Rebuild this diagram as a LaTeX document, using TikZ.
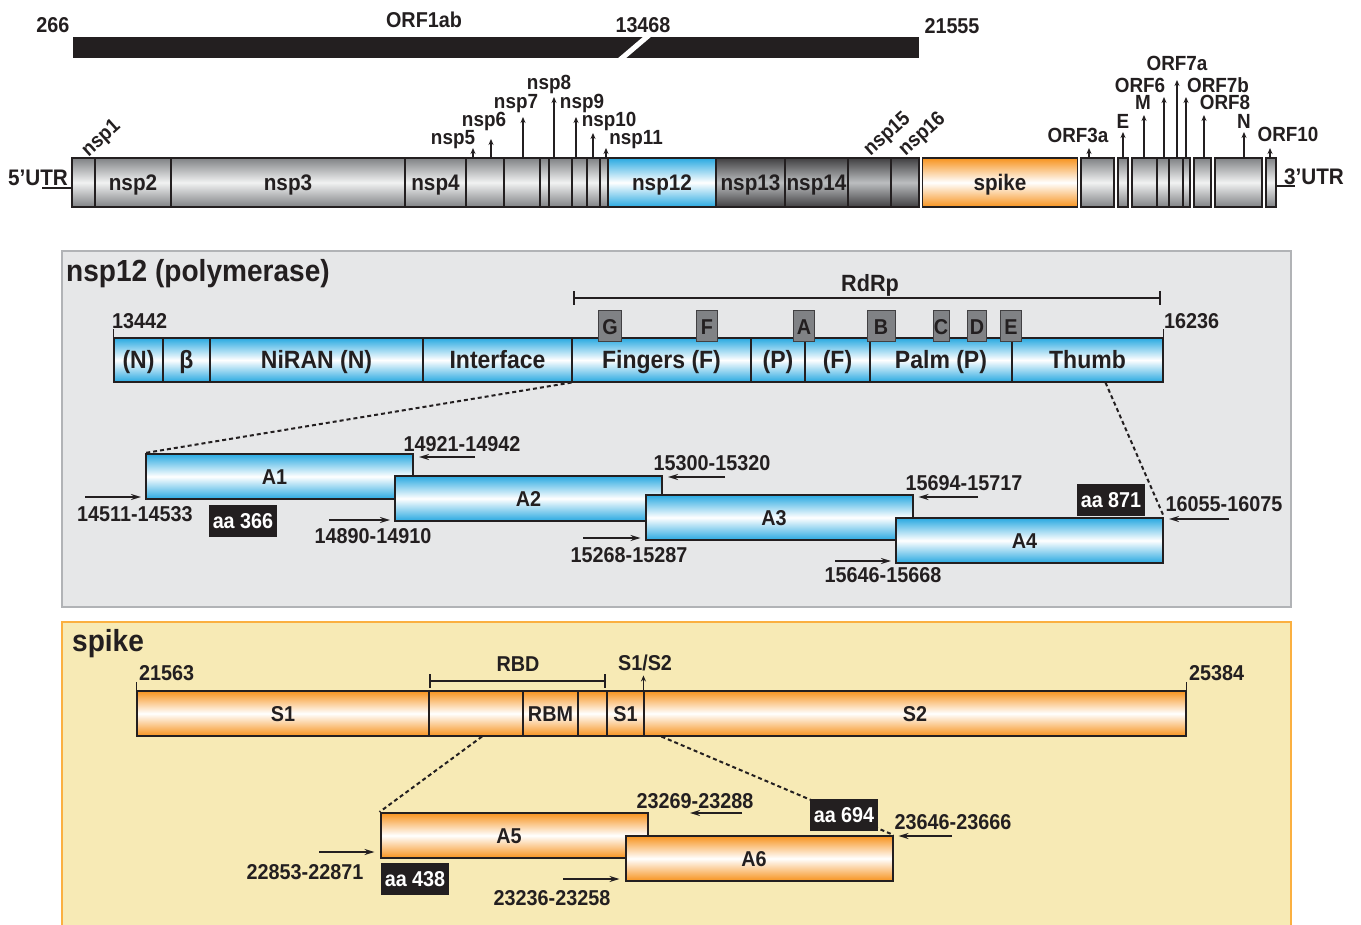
\documentclass[tikz,border=0pt]{standalone}
\usepackage{fontspec}
\setmainfont{Liberation Sans}[FakeStretch=0.92]
\usepackage{tikz}
\usetikzlibrary{arrows.meta,positioning,calc}

\definecolor{ink}{HTML}{231F20}
\definecolor{gedge}{HTML}{808285}
\definecolor{gmid}{HTML}{F1F2F2}
\definecolor{dedge}{HTML}{414042}
\definecolor{dmid}{HTML}{BCBEC0}
\definecolor{bedge}{HTML}{29A9E1}
\definecolor{oedge}{HTML}{F7931E}
\definecolor{panelgrey}{HTML}{E6E7E8}
\definecolor{panelline}{HTML}{B1B3B6}
\definecolor{paneltan}{HTML}{F7EAB5}
\definecolor{panelorange}{HTML}{FBB040}
\definecolor{motif}{HTML}{808285}

\newcommand{\fsz}[1]{\fontsize{#1pt}{#1pt}\selectfont\bfseries}
\newcommand{\amptext}[1]{#1\hspace*{10pt}}

\tikzset{
  seg/.style={draw=ink, line width=1.1pt, inner sep=0pt, text=ink, text depth=0pt},
  gseg/.style={seg, minimum height=49pt, font=\fsz{22.5}, text height=16pt, top color=gedge, bottom color=gedge, middle color=gmid},
  dseg/.style={seg, minimum height=49pt, font=\fsz{22.5}, text height=16pt, top color=dedge, bottom color=dedge, middle color=dmid},
  bseg/.style={seg, top color=bedge, bottom color=bedge, middle color=white},
  oseg/.style={seg, top color=oedge, bottom color=oedge, middle color=white},
  amp/.style={line width=2pt, minimum width=267pt, minimum height=45pt, font=\fsz{21.5}, text height=15.4pt},
  txt/.style={inner sep=0pt, text=ink, font=\fsz{21.5}, text height=15.4pt, text depth=0pt},
  small/.style={inner sep=0pt, text=ink, font=\fsz{20.5}, text height=14.7pt, text depth=0pt},
  title/.style={inner sep=0pt, text=ink, font=\fsz{30.5}, text height=21.8pt, text depth=0pt, anchor=west},
  aabox/.style={fill=ink, text=white, inner sep=0pt, font=\fsz{21.5}, text height=15.4pt, text depth=0pt, minimum width=68pt, minimum height=32pt},
  motifbox/.style={fill=motif, draw=dedge, line width=1pt, inner sep=0pt, minimum height=31pt, text=ink, font=\fsz{21.5}, text height=15.4pt, text depth=0pt},
  orfarrow/.style={draw=ink, line width=1.2pt, -{Stealth[length=6pt,width=5pt]}},
  primer/.style={draw=ink, line width=1.8pt, -{Stealth[length=10pt,width=6pt]}},
  bracket/.style={draw=ink, line width=1.8pt, {Bar[width=14pt]}-{Bar[width=14pt]}},
  tickl/.style={draw=ink, line width=1.2pt},
  zoomline/.style={draw=ink, line width=2pt, dash pattern=on 4pt off 3pt}
}

\begin{document}
\begin{tikzpicture}[x=1pt,y=-1pt]
\useasboundingbox (0,0) rectangle (1361,925);

% ORF1ab bar
\node[fill=ink, inner sep=0pt, minimum width=846pt, minimum height=21pt] (orf1ab) at (496,47.5) {};
\fill[white] (617,59) -- (625,59) -- (652,36) -- (644,36) -- cycle;
\node[txt] (p266) at (53,25) {266};
\node[txt] (porf) at (424,20) {ORF1ab};
\node[txt] (p13468) at (643,25) {13468};
\node[txt] (p21555) at (952,26) {21555};

% genome
\foreach \n/\a/\b/\t in {g1/72/95/{}, g2/95/171/nsp2, g3/171/405/nsp3, g4/405/466/nsp4,
    g5/466/504/{}, g6/504/540/{}, g7/540/549/{}, g8/549/572/{}, g9/572/587/{},
    g10/587/600/{}, g11/600/608/{},
    orf3a/1081/1114/{}, e/1118/1128/{}, m/1132/1157/{}, orf6/1157/1169/{},
    orf7a/1169/1183/{}, orf7b/1183/1190/{}, orf8/1194/1211/{}, n/1215/1262/{}, orf10/1266/1276/{}}
  \node[gseg, minimum width={(\b-\a)*1pt}] (\n) at ({(\a+\b)/2},182.5) {\t};
\foreach \n/\a/\b/\t in {nsp13/716/785/nsp13, nsp14/785/848/nsp14, nsp15/848/891/{}, nsp16/891/919/{}}
  \node[dseg, minimum width={(\b-\a)*1pt}] (\n) at ({(\a+\b)/2},182.5) {\t};
\node[bseg, minimum height=49pt, minimum width=108pt, font=\fsz{22.5}, text height=16pt] (nsp12) at (662,182.5) {nsp12};
\node[oseg, minimum height=49pt, minimum width=155pt, font=\fsz{22.5}, text height=16pt] (spike) at (1000,182.5) {spike};

% UTRs
\node[txt, font=\fsz{22.5}] (utr5) at (38,178) {5’UTR};
\coordinate (utr5l) at (42,188);
\draw[tickl] (utr5l) -- (utr5l -| g1.west);
\node[txt, font=\fsz{22.5}] (utr3) at (1314,177) {3’UTR};
\coordinate (utr3r) at (1295,186);
\draw[tickl] (utr3r -| orf10.east) -- (utr3r);

% rotated names
\node[small, rotate=42] (lnsp1) at (100,137) {nsp1};
\node[small, rotate=42] (lnsp15) at (886,133) {nsp15};
\node[small, rotate=42] (lnsp16) at (921,133) {nsp16};

% names with arrows
\foreach \n/\x/\t/\lx/\ly in {nsp5/473/148/453/137, nsp6/491/139/484/119, nsp7/523/117/516/101,
    nsp8/554/97/549/82, nsp9/576/117/582/101, nsp10/593/133/609/119, nsp11/606/148/636/137,
    ORF3a/1089/148/1078/135, E/1123/132/1123/121, M/1144/115/1143/102, ORF6/1164/97/1140/85,
    ORF7a/1177/80/1177/63, ORF7b/1186/97/1218/85, ORF8/1204/115/1225/102, N/1244/132/1244/121,
    ORF10/1270/148/1288/134} {
  \node[small] (l\n) at (\lx,\ly) {\n};
  \coordinate (\n-b) at (\x,158);
  \coordinate (\n-t) at (\x,\t);
  \draw[orfarrow] (\n-b) -- (\n-t);
}

% nsp12 panel
\draw[fill=panelgrey, draw=panelline, line width=2pt] (62,251) rectangle (1291,607);
\node[title] (t12) at (66,271) {nsp12 (polymerase)};

\coordinate (rdL) at (573,298);
\coordinate (rdR) at (1161,298);
\draw[bracket] (rdL) -- (rdR);
\node[txt, font=\fsz{23.5}] (rdrp) at (870,284) {RdRp};

\foreach \n/\a/\b/\t in {d1/114/163/{(N)}, d2/163/210/β, d3/210/423/{NiRAN (N)}, d4/423/572/Interface,
    d5/572/751/{Fingers (F)}, d6/751/805/{(P)}, d7/805/870/{(F)}, d8/870/1012/{Palm (P)}, d9/1012/1163/Thumb}
  \node[bseg, minimum height=44pt, font=\fsz{25}, text height=17.5pt, minimum width={(\b-\a)*1pt}] (\n) at ({(\a+\b)/2},360) {\t};

\foreach \m/\c/\w in {G/610/23, F/707/21, A/804/21, B/881/28, C/941/16, D/977/19, E/1011/21}
  \node[motifbox, minimum width=\w pt] (m\m) at (\c,326.5) {\m};

\node[txt, anchor=west] (p13442) at (112,321) {13442};
\draw[tickl] (d1.north west) -- ++(0,-8);
\node[txt, anchor=west] (p16236) at (1164,321) {16236};
\draw[tickl] (d9.north east) -- ++(0,-8);

% amplicons A1-A4
\node[bseg, amp] (A1) at (279.5,476.5) {\amptext{A1}};
\node[bseg, amp] (A2) at (528.5,498.5) {A2};
\node[bseg, amp] (A3) at (779,517.5) {\amptext{A3}};
\node[bseg, amp] (A4) at (1029.5,540.5) {\amptext{A4}};

\draw[zoomline] (d5.south west) -- (A1.north west);
\draw[zoomline] ($(d9.south)+(18,0)$) -- (A4.north east);

\coordinate (f1) at (85,497);
\draw[primer] (f1) -- ($(f1 -| A1.west)+(-4,0)$);
\node[txt] (pf1) at (135,514) {14511-14533};
\coordinate (r1) at (475,457);
\draw[primer] (r1) -- ($(r1 -| A1.east)+(5,0)$);
\node[txt] (pr1) at (462,444) {14921-14942};

\coordinate (f2) at (329,520);
\draw[primer] (f2) -- ($(f2 -| A2.west)+(-4,0)$);
\node[txt] (pf2) at (373,536) {14890-14910};
\coordinate (r2) at (725,477);
\draw[primer] (r2) -- ($(r2 -| A2.east)+(5,0)$);
\node[txt] (pr2) at (712,463) {15300-15320};

\coordinate (f3) at (583,538);
\draw[primer] (f3) -- ($(f3 -| A3.west)+(-4,0)$);
\node[txt] (pf3) at (629,555) {15268-15287};
\coordinate (r3) at (978,497);
\draw[primer] (r3) -- ($(r3 -| A3.east)+(5,0)$);
\node[txt] (pr3) at (964,483) {15694-15717};

\coordinate (f4) at (835,561);
\draw[primer] (f4) -- ($(f4 -| A4.west)+(-4,0)$);
\node[txt] (pf4) at (883,575) {15646-15668};
\coordinate (r4) at (1229,519);
\draw[primer] (r4) -- ($(r4 -| A4.east)+(5,0)$);
\node[txt] (pr4) at (1224,504) {16055-16075};

\node[aabox] (aa366) at (243,521) {aa 366};
\node[aabox] (aa871) at (1111,499.5) {aa 871};

% spike panel
\draw[fill=paneltan, draw=panelorange, line width=2pt] (62,622) rectangle (1291,935);
\node[title] (tspike) at (72,641) {spike};

\foreach \n/\a/\b/\t in {s1/137/429/S1, s2/429/523/{}, s3/523/578/RBM, s4/578/607/{},
    s5/607/644/S1, s6/644/1186/S2}
  \node[oseg, minimum height=45pt, font=\fsz{21.5}, text height=15.4pt, minimum width={(\b-\a)*1pt}] (\n) at ({(\a+\b)/2},713.5) {\t};

\node[txt, anchor=west] (p21563) at (139,673) {21563};
\draw[tickl] (s1.north west) -- ++(0,-8);
\node[txt, anchor=west] (p25384) at (1189,673) {25384};
\draw[tickl] (s6.north east) -- ++(0,-8);

\coordinate (rbdL) at (429,681);
\coordinate (rbdR) at (606,681);
\draw[bracket] (rbdL) -- (rbdR);
\node[txt] (rbd) at (518,664) {RBD};
\node[txt] (s1s2) at (645,663) {S1/S2};
\draw[orfarrow] (s6.north west) -- ++(0,-15);

% amplicons A5-A6
\node[oseg, amp] (A5) at (514,835.5) {\amptext{A5}};
\node[oseg, amp] (A6) at (759,858.5) {\amptext{A6}};

\draw[zoomline] ($(s2.south)+(6,0)$) -- (A5.north west);
\draw[zoomline] ($(s6.south west)+(18,0)$) -- (A6.north east);

\coordinate (f5) at (319,852);
\draw[primer] (f5) -- ($(f5 -| A5.west)+(-5,0)$);
\node[txt] (pf5) at (305,872) {22853-22871};
\coordinate (r5) at (742,813);
\draw[primer] (r5) -- ++(-52,0);
\node[txt] (pr5) at (695,801) {23269-23288};

\coordinate (f6) at (563,879);
\draw[primer] (f6) -- ($(f6 -| A6.west)+(-5,0)$);
\node[txt] (pf6) at (552,898) {23236-23258};
\coordinate (r6) at (952,836);
\draw[primer] (r6) -- ($(r6 -| A6.east)+(5,0)$);
\node[txt] (pr6) at (953,822) {23646-23666};

\node[aabox] (aa438) at (415,879) {aa 438};
\node[aabox] (aa694) at (844,815) {aa 694};
\end{tikzpicture}
\end{document}
